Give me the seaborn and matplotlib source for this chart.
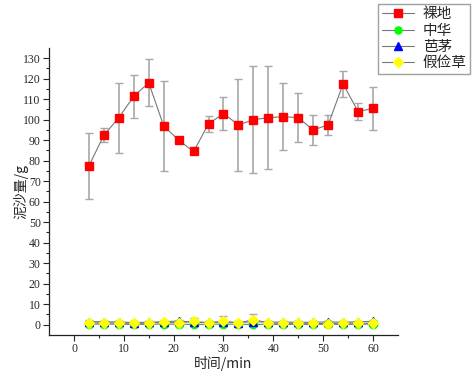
import numpy as np
import matplotlib
matplotlib.use('Agg')
import matplotlib.pyplot as plt
import seaborn as sns

# time points (min)
time_min = [3, 6, 9, 12, 15, 18, 21, 24, 27, 30, 33, 36, 39, 42, 45, 48, 51, 54, 57, 60]

# 裸地
bare = [77.5, 92.5, 101, 111.5, 118, 97, 90, 84.5, 98, 103, 97.5, 100, 101, 101.5, 101, 95, 97.5, 117.5, 104, 105.5]
bare_err = [16, 3.5, 17, 10.5, 11.5, 22, 1.5, 1, 4, 8, 22.5, 26, 25, 16.5, 12, 7.5, 5, 6.5, 4, 10.5]

# 中华
zhonghua = [0.2, 0.3, 0.2, 0.1, 0.2, 0.3, 0.2, 0.1, 0.2, 0.3, 0.2, 0.1, 0.2, 0.1, 0.2, 0.1, 0.2, 0.1, 0.2, 0.3]
zhonghua_err = [0.3, 0.3, 0.3, 0.3, 0.3, 0.3, 0.3, 0.3, 0.3, 0.3, 0.3, 0.3, 0.3, 0.3, 0.3, 0.3, 0.3, 0.3, 0.3, 0.3]

# 芭茅
bamao = [1.5, 1.4, 1.3, 1.0, 1.2, 1.4, 1.8, 1.2, 1.1, 1.3, 1.0, 1.5, 1.2, 1.3, 1.1, 1.2, 1.3, 1.2, 1.4, 1.6]
bamao_err = [0.6, 0.6, 0.5, 0.5, 0.5, 0.6, 0.7, 0.5, 0.5, 0.5, 0.5, 0.6, 0.5, 0.5, 0.5, 0.5, 0.6, 0.5, 0.6, 0.6]

# 假俭草
jiajian = [0.8, 0.9, 0.8, 0.6, 0.8, 1.2, 0.9, 1.6, 0.8, 1.8, 0.7, 2.5, 0.8, 0.6, 0.7, 0.6, 0.5, 0.8, 0.7, 0.7]
jiajian_err = [0.8, 0.8, 0.8, 0.5, 0.7, 1.0, 0.7, 1.8, 0.6, 2.2, 0.6, 2.6, 0.7, 0.5, 0.6, 0.5, 0.5, 0.6, 0.6, 0.6]

sns.set_style('ticks')
plt.rcParams['font.family'] = ['Liberation Serif', 'Noto Sans CJK SC']
cjk = ['Noto Sans CJK SC', 'DejaVu Sans']

fig = plt.figure(figsize=(4.72, 3.78), dpi=100)
ax = fig.add_axes([0.104, 0.114, 0.739, 0.759])

series = [
    ('裸地', bare, bare_err, 'red', 's', 6),
    ('中华', zhonghua, zhonghua_err, '#00ff00', 'o', 6),
    ('芭茅', bamao, bamao_err, 'blue', '^', 6),
    ('假俭草', jiajian, jiajian_err, 'yellow', 'D', 5.5),
]

handles = []
for name, vals, errs, color, marker, ms in series:
    ax.errorbar(time_min, vals, yerr=errs, fmt='none', ecolor='#a8a8a8',
                elinewidth=1.2, capsize=3, capthick=1.0, zorder=2)
    h, = ax.plot(time_min, vals, color='#777777', lw=0.8, marker=marker,
                 ms=ms, mfc=color, mec=color, zorder=3, label=name)
    handles.append(h)

ax.set_xlim(-5, 65)
ax.set_ylim(-5, 135)
ax.set_xticks(np.arange(0, 61, 10))
ax.set_yticks(np.arange(0, 131, 10))
ax.set_xticks(np.arange(5, 61, 10), minor=True)
ax.set_yticks(np.arange(5, 131, 10), minor=True)
ax.tick_params(which='major', length=4, width=0.8, labelsize=8.5, pad=2, direction='out')
ax.tick_params(which='minor', length=2, width=0.8, direction='out')
sns.despine(ax=ax)
for s in ['left', 'bottom']:
    ax.spines[s].set_linewidth(0.9)
    ax.spines[s].set_color('#222222')

ax.set_xlabel('时间/min', family=cjk, fontsize=10)
ax.set_ylabel('泥沙量/g', family=cjk, fontsize=10)
ax.xaxis.set_label_coords(0.5, -0.075)
ax.yaxis.set_label_coords(-0.058, 0.5)

leg = fig.legend(handles=handles, loc='upper right', bbox_to_anchor=(0.996, 0.99),
                 borderaxespad=0, markerscale=0.85,
                 prop={'family': cjk, 'size': 10.5}, frameon=True, fancybox=False,
                 handlelength=2.2, borderpad=0.25, labelspacing=0.15, handletextpad=0.6)
leg.get_frame().set_edgecolor('#888888')
leg.get_frame().set_linewidth(1.0)

fig.savefig('out.png', dpi=100)
